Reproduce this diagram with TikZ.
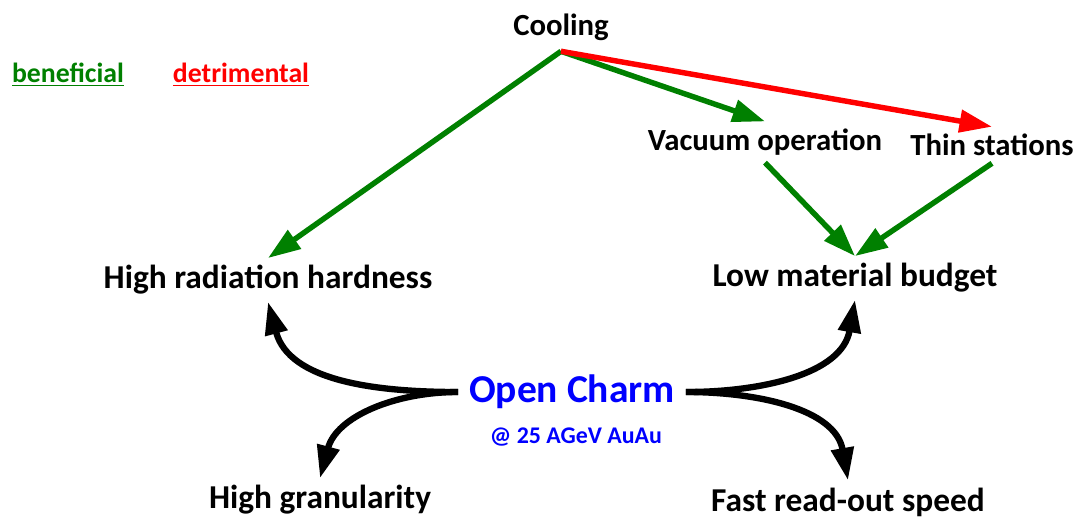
\documentclass[tikz,border=0pt]{standalone}
\usepackage{fontspec}
\setmainfont{Carlito}
\usepackage{tikz}
\usetikzlibrary{arrows.meta}
\definecolor{goodgreen}{RGB}{0,128,0}
\definecolor{badred}{RGB}{255,0,0}
\definecolor{charmblue}{RGB}{0,0,255}

\begin{document}
\begin{tikzpicture}[x=0.02cm, y=-0.02cm,
	lbl/.style = {font=\fontsize{17.5}{20}\selectfont\bfseries, inner sep=4pt},
	req/.style = {font=\fontsize{19}{22}\selectfont\bfseries, inner sep=4pt},
	good/.style = {draw=goodgreen, line width=3.1pt, -{Triangle[length=18.5pt,width=12.5pt]}},
	bad/.style = {draw=badred, line width=3.1pt, -{Triangle[length=18.5pt,width=12.5pt]}},
	fork/.style = {draw=black, line width=3.6pt, -{Triangle[length=18.5pt,width=12.5pt]}}]
	\useasboundingbox (0,0) rectangle (1078,522);
	% legend
	\node (ben) at (68,75) {\fontsize{15.8}{18}\selectfont\bfseries\color{goodgreen}\underline{beneficial}};
	\node (det) at (241,75) {\fontsize{15.8}{18}\selectfont\bfseries\color{badred}\underline{detrimental}};
	% top row
	\node[lbl] (cool) at (561,27) {Cooling};
	\node[lbl] (vac) at (765,142) {Vacuum operation};
	\node[lbl] (thin) at (992,145) {Thin stations};
	% requirements
	\node[req] (hard) at (268,280) {High radiation hardness};
	\node[req] (low) at (855,278) {Low material budget};
	\node[req] (gran) at (320,500) {High granularity};
	\node[req] (fast) at (848,502) {Fast read-out speed};
	% physics case
	\node[font=\fontsize{22.5}{26}\selectfont\bfseries, text=charmblue, inner sep=6pt] (charm) at (572,392) {Open Charm};
	\node[font=\fontsize{13.6}{16}\selectfont\bfseries, text=charmblue] (sub) at (576,437) {@ 25 AGeV AuAu};
	\coordinate (hub) at ([yshift=-2pt]cool.south);
	% cooling effects
	\draw[good] (hub) -- (hard.north);
	\draw[good] (hub) -- (vac.north);
	\draw[bad] (hub) -- (thin.north);
	\draw[good] (vac.south) -- (low.north);
	\draw[good] (thin.south) -- (low.north);
	% open charm needs
	\draw[fork] (charm.west) to[out=180, in=-75] (hard.south);
	\draw[fork] (charm.west) to[out=180, in=75] (gran.north);
	\draw[fork] (charm.east) to[out=0, in=-100] (low.south);
	\draw[fork] (charm.east) to[out=0, in=100] (fast.north);
\end{tikzpicture}
\end{document}
